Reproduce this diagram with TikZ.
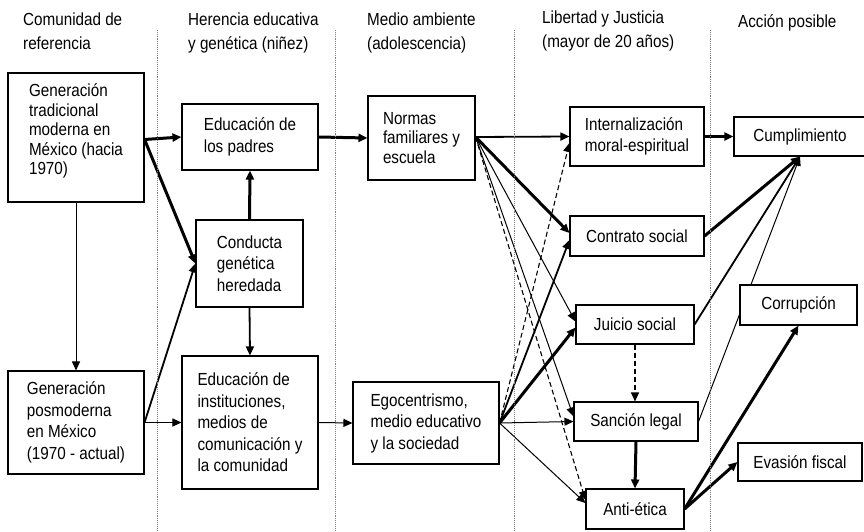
\documentclass[tikz,border=0pt]{standalone}
\usepackage{fontspec}
\setmainfont{Liberation Sans}[FakeStretch=0.87]
\usetikzlibrary{arrows.meta,backgrounds}
\begin{document}
\begin{tikzpicture}[x=1pt,y=-1pt,
 box/.style={draw=black, line width=1.1pt, fill=white, inner sep=0pt, align=left, font=\fontsize{17.5}{21.5}\selectfont},
 hdr/.style={anchor=base west, inner sep=0pt, align=left, font=\fontsize{17.5}{24}\selectfont},
 sepline/.style={densely dotted, gray, line width=0.9pt},
 conn/.style={-{Triangle[length=9pt,width=8pt]}},
 wthin/.style={conn, line width=1pt},
 wmed/.style={conn, line width=1.8pt},
 wthick/.style={conn, line width=3pt},
 wdash/.style={conn, line width=1.1pt, dash pattern=on 5pt off 3pt},
]
\useasboundingbox (0,0) rectangle (864,532);

% column separators
\draw[sepline] (157,30) -- (157,532);
\draw[sepline] (335,30) -- (335,532);
\draw[sepline] (514,30) -- (514,532);
\draw[sepline] (710,30) -- (710,532);

% headers
\node[hdr] (h1) at (23,50) {Comunidad de\\referencia};
\node[hdr] (h2) at (188,50) {Herencia educativa\\y genética (niñez)};
\node[hdr] (h3) at (367,50) {Medio ambiente\\(adolescencia)};
\node[hdr] (h4) at (542,48) {Libertad y Justicia\\(mayor de 20 años)};
\node[hdr] (h5) at (738,28) {Acción posible};

% boxes
\node[box, font=\fontsize{17.5}{19.5}\selectfont, minimum width=136pt, minimum height=129pt] (trad) at (76,137.5)
  {Generación\\tradicional\\moderna en\\México (hacia\\1970)\\[-3pt]\mbox{}};
\node[box, minimum width=136pt, minimum height=103pt] (posm) at (76,422.5)
  {Generación\\posmoderna\\en México\\(1970 - actual)};
\node[box, minimum width=136pt, minimum height=66pt] (edpad) at (250,137)
  {Educación de\\los padres};
\node[box, minimum width=107pt, minimum height=87pt] (cond) at (249.5,263.5)
  {Conducta\\genética\\heredada};
\node[box, minimum width=136pt, minimum height=133pt] (edinst) at (250,422.5)
  {Educación de\\instituciones,\\medios de\\comunicación y\\la comunidad};
\node[box, font=\fontsize{17.5}{19.5}\selectfont, minimum width=107pt, minimum height=84pt] (normas) at (421.5,138)
  {Normas\\familiares y\\escuela};
\node[box, minimum width=146pt, minimum height=82pt] (ego) at (426,423)
  {Egocentrismo,\\medio educativo\\y la sociedad};
\node[box, minimum width=134pt, minimum height=59pt] (intern) at (637,136.5)
  {Internalización\\moral-espiritual};
\node[box, minimum width=134pt, minimum height=40pt] (contr) at (637,236)
  {Contrato social};
\node[box, minimum width=118pt, minimum height=39pt] (juicio) at (635,324.5)
  {Juicio social};
\node[box, minimum width=124pt, minimum height=39pt] (sanc) at (636,421.5)
  {Sanción legal};
\node[box, minimum width=98pt, minimum height=40pt] (anti) at (635,509)
  {Anti-ética};
\node[box, minimum width=132pt, minimum height=39pt] (cumpl) at (800,136.5)
  {Cumplimiento};
\node[box, minimum width=117pt, minimum height=40pt] (corr) at (798.5,305)
  {Corrupción};
\node[box, minimum width=124pt, minimum height=38pt] (evas) at (800,462)
  {Evasión fiscal};

% connectors (behind boxes)
\begin{scope}[on background layer]
\draw[wthick] ([yshift=-2pt]trad.east) -- (edpad.west);
\draw[wthick] ([yshift=-2pt]trad.east) -- (cond.west);
\draw[wthin] (trad.south) -- (posm.north);
\draw[wmed] (posm.east) -- (cond.west);
\draw[wthin] (posm.east) -- (edinst.west);
\draw[wthick] (cond.north) -- (edpad.south);
\draw[wmed] (cond.south) -- (edinst.north);
\draw[wthick] (edpad.east) -- (normas.west);
\draw[wthin] (edinst.east) -- (ego.west);

\draw[wmed] ([yshift=1pt]normas.east) -- (intern.west);
\draw[wthick] ([yshift=1pt]normas.east) -- ([yshift=3pt]contr.west);
\draw[wthin] ([yshift=1pt]normas.east) -- ([yshift=3pt]juicio.west);
\draw[wthin] ([yshift=1pt]normas.east) -- ([yshift=5pt]sanc.west);
\draw[wdash] ([yshift=1pt]normas.east) -- ([yshift=9pt]anti.west);

\draw[wdash] (ego.east) -- ([yshift=-6.5pt]intern.west);
\draw[wmed] (ego.east) -- ([yshift=-4pt]contr.west);
\draw[wthick] (ego.east) -- ([yshift=-3pt]juicio.west);
\draw[wthin] (ego.east) -- (sanc.west);
\draw[wthin] (ego.east) -- ([yshift=6pt]anti.west);

\draw[wdash] (juicio.south) -- (sanc.north -| juicio.south);
\draw[wthick] (sanc.south) -- (anti.north);

\draw[wthick] (intern.east) -- (cumpl.west);
\draw[wthick] (contr.east) -- (cumpl.south);
\draw[wmed] (juicio.east) -- (cumpl.south);
\draw[wthin] (sanc.east) -- (cumpl.south);
\draw[wthick] (anti.east) -- (corr.south);
\draw[wthick] (anti.east) -- (evas.west);
\end{scope}
\end{tikzpicture}
\end{document}
